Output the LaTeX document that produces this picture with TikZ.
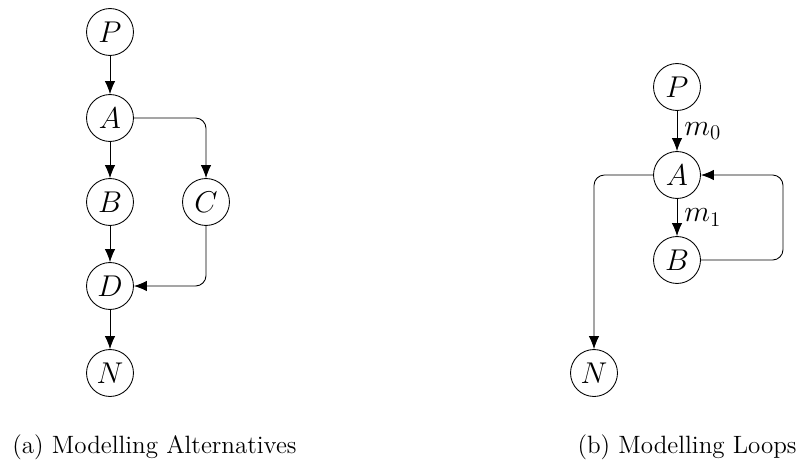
\documentclass[tikz,border=0pt]{standalone}
\usetikzlibrary{arrows.meta}
\begin{document}
\begin{tikzpicture}[x=0.575pt,y=-0.575pt,
  state/.style={circle,draw,line width=0.5pt,minimum size=27pt,inner sep=0pt,font=\fontsize{16}{19}\selectfont},
  flow/.style={-{Latex[length=7.5pt,width=6pt]},line width=0.5pt,rounded corners=6pt},
  lbl/.style={font=\LARGE,inner sep=4pt},
  captext/.style={font=\Large,inner sep=0pt}]
\useasboundingbox (0,0) rectangle (801,466);
% (a) alternatives
\node[state] (P1) at (110,32) {$P$};
\node[state] (A1) at (110,118) {$A$};
\node[state] (B1) at (110,202) {$B$};
\node[state] (C1) at (206,202) {$C$};
\node[state] (D1) at (110,286) {$D$};
\node[state] (N1) at (110,373) {$N$};
\draw[flow] (P1) -- (A1);
\draw[flow] (A1) -- (B1);
\draw[flow] (B1) -- (D1);
\draw[flow] (D1) -- (N1);
\draw[flow] (A1.east) -| (C1.north);
\draw[flow] (C1.south) |- (D1.east);
% (b) loops
\node[state] (P2) at (677,87) {$P$};
\node[state] (A2) at (677,175) {$A$};
\node[state] (B2) at (677,260) {$B$};
\node[state] (N2) at (594,373) {$N$};
\draw[flow] (P2) -- node[lbl,right] {$m_0$} (A2);
\draw[flow] (A2) -- node[lbl,right] {$m_1$} (B2);
\draw[flow] (A2.west) -| (N2.north);
\coordinate (R) at (783,217);
\draw[flow] (B2.east) -| (R) |- (A2.east);
% captions
\node[captext,anchor=base west] (ca) at (12,453) {(a) Modelling Alternatives};
\node[captext,anchor=base east] (cb) at (797,453) {(b) Modelling Loops};
\end{tikzpicture}
\end{document}
